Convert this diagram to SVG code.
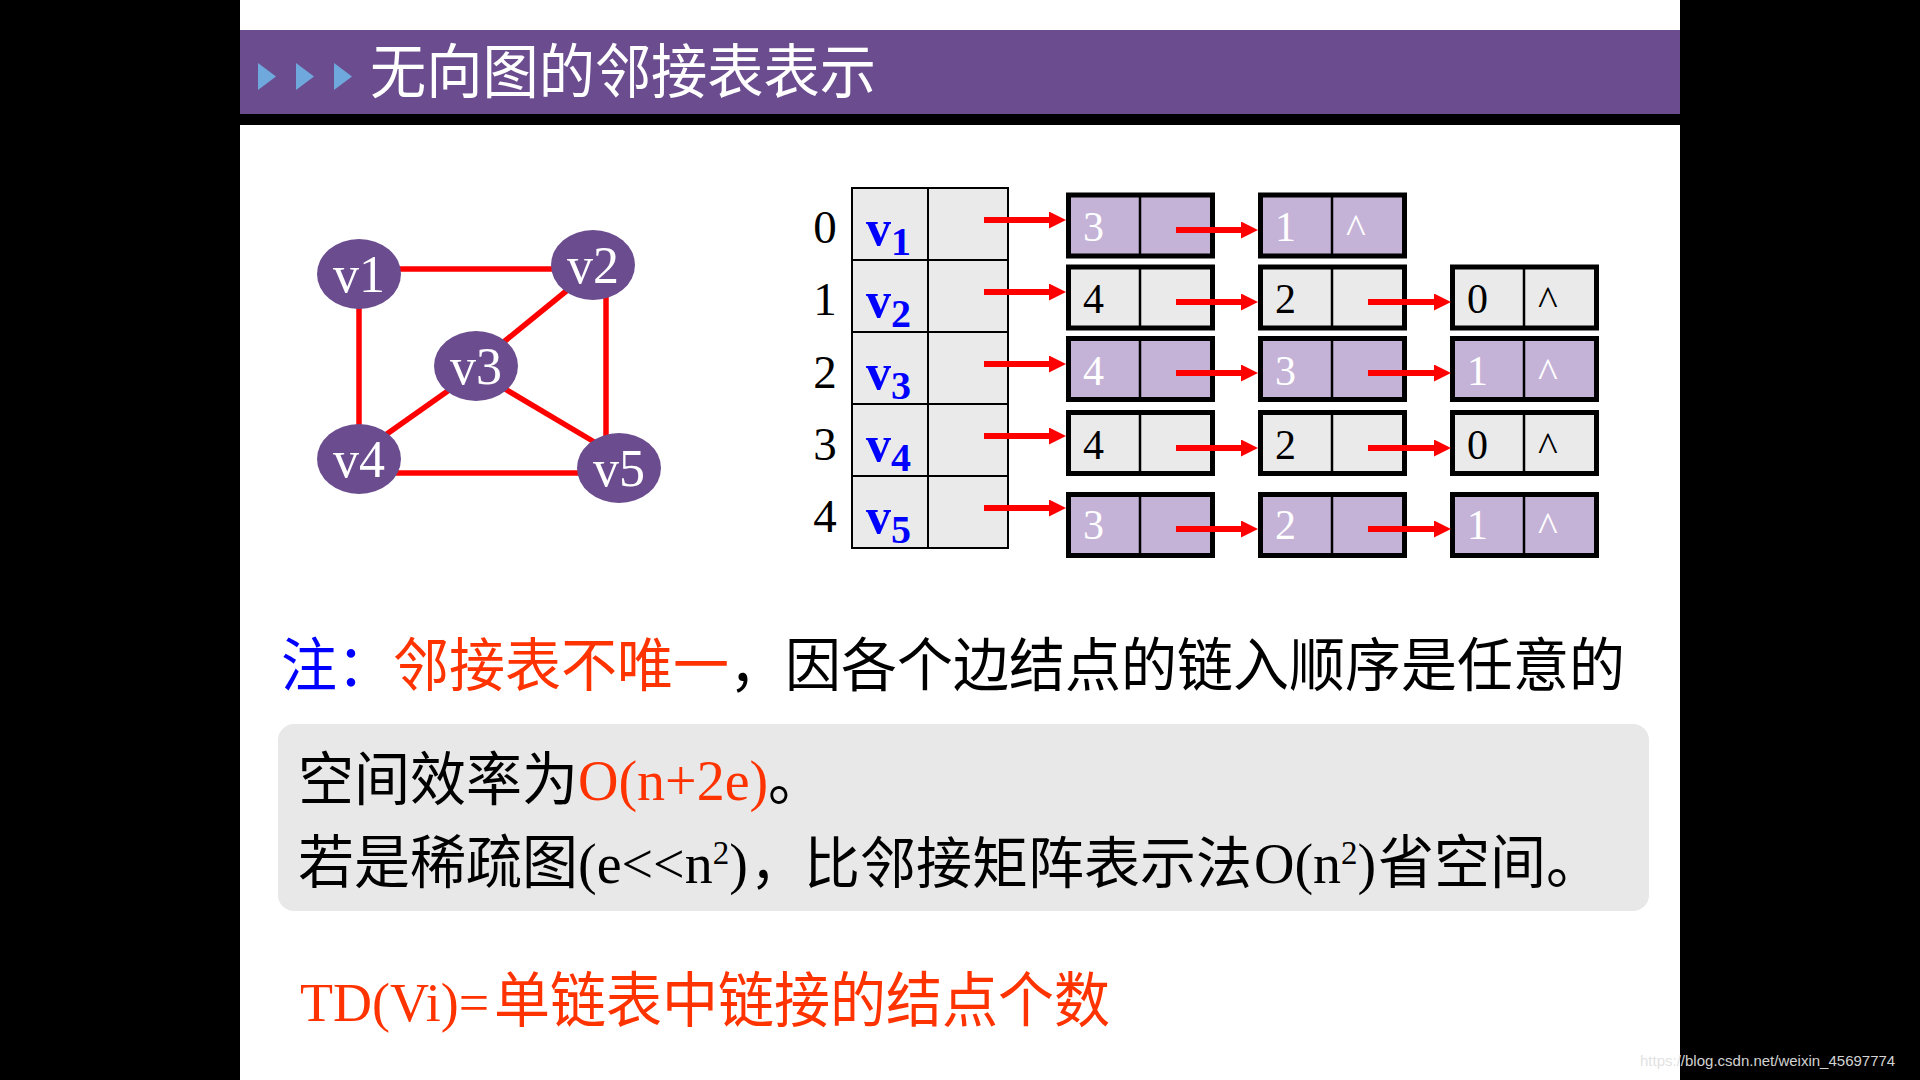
<svg xmlns="http://www.w3.org/2000/svg" width="1920" height="1080" viewBox="0 0 1920 1080">
  <defs>
    <style>
      .cjk { font-family: "Noto Sans CJK SC", "Noto Sans", sans-serif; }
      .serif { font-family: "Liberation Serif", "Times New Roman", serif; }
      .edge { stroke: #ff0000; stroke-width: 5.5; fill: none; }
      .ptr { stroke: #ff0000; stroke-width: 6; fill: none; marker-end: url(#head); }
      .vnode ellipse { fill: #6b4c8e; }
      .vnode text { font-family: "Liberation Serif", "Times New Roman", serif; font-size: 52px; fill: #ffffff; text-anchor: middle; }
      .cell { fill: #eaeaea; stroke: #000; stroke-width: 2; }
      .idx { font-family: "Liberation Serif", serif; font-size: 47px; fill: #000; text-anchor: middle; }
      .vlab { font-family: "Liberation Serif", serif; font-weight: bold; font-size: 50px; fill: #0000ff; }
      .box { stroke: #000; stroke-width: 5; }
      .box.lilac { fill: #c5b3d7; }
      .box.grey { fill: #eaeaea; }
      .div { stroke: #000; stroke-width: 2.5; }
      .val { font-family: "Liberation Serif", serif; font-size: 42px; }
      .lilac-t { fill: #ffffff; }
      .grey-t { fill: #000000; }
    </style>
    <marker id="head" markerUnits="userSpaceOnUse" markerWidth="18" markerHeight="18" refX="1" refY="8.5" orient="auto">
      <path d="M0,0 L17,8.5 L0,17 Z" fill="#ff0000"/>
    </marker>
  </defs>

  <!-- page -->
  <rect x="0" y="0" width="1920" height="1080" fill="#000"/>
  <rect x="240" y="0" width="1440" height="1080" fill="#fff"/>

  <!-- title bar -->
  <g id="title">
    <rect x="240" y="30" width="1440" height="84" fill="#6b4d8f"/>
    <rect x="240" y="114" width="1440" height="11" fill="#000"/>
    <polygon points="258,63 258,90 276,76.5" fill="#6fa8dc"/>
    <polygon points="296,63 296,90 314,76.5" fill="#6fa8dc"/>
    <polygon points="334,63 334,90 352,76.5" fill="#6fa8dc"/>
    <text x="370" y="93" class="cjk" font-size="59" fill="#fff" textLength="506" lengthAdjust="spacingAndGlyphs">无向图的邻接表表示</text>
  </g>

  <!-- undirected graph: edges -->
  <g id="graph-edges">
    <line class="edge" x1="395" y1="269" x2="560" y2="269"/>
    <line class="edge" x1="359" y1="300" x2="359" y2="430"/>
    <line class="edge" x1="606" y1="290" x2="606" y2="440"/>
    <line class="edge" x1="395" y1="473" x2="585" y2="473"/>
    <line class="edge" x1="570" y1="288" x2="500" y2="345"/>
    <line class="edge" x1="452" y1="388" x2="384" y2="436"/>
    <line class="edge" x1="505" y1="389" x2="596" y2="443"/>
  </g>

  <!-- undirected graph: vertices -->
  <g id="v1" class="vnode"><ellipse cx="359" cy="274" rx="42" ry="35"/><text x="359" y="292">v1</text></g>
  <g id="v2" class="vnode"><ellipse cx="593" cy="265" rx="42" ry="35"/><text x="593" y="283">v2</text></g>
  <g id="v3" class="vnode"><ellipse cx="476" cy="366" rx="42" ry="35"/><text x="476" y="384">v3</text></g>
  <g id="v4" class="vnode"><ellipse cx="359" cy="459" rx="42" ry="35"/><text x="359" y="477">v4</text></g>
  <g id="v5" class="vnode"><ellipse cx="619" cy="468" rx="42" ry="35"/><text x="619" y="486">v5</text></g>

  <!-- vertex table -->
  <g id="vertex-table">
    <rect class="cell" x="852" y="188" width="76" height="72"/>
    <rect class="cell" x="928" y="188" width="80" height="72"/>
    <rect class="cell" x="852" y="260" width="76" height="72"/>
    <rect class="cell" x="928" y="260" width="80" height="72"/>
    <rect class="cell" x="852" y="332" width="76" height="72"/>
    <rect class="cell" x="928" y="332" width="80" height="72"/>
    <rect class="cell" x="852" y="404" width="76" height="72"/>
    <rect class="cell" x="928" y="404" width="80" height="72"/>
    <rect class="cell" x="852" y="476" width="76" height="72"/>
    <rect class="cell" x="928" y="476" width="80" height="72"/>
    <text class="idx" x="825" y="243">0</text>
    <text class="idx" x="825" y="315">1</text>
    <text class="idx" x="825" y="388">2</text>
    <text class="idx" x="825" y="460">3</text>
    <text class="idx" x="825" y="532">4</text>
    <text class="vlab" x="866" y="245">v<tspan font-size="40" dy="10">1</tspan></text>
    <text class="vlab" x="866" y="317">v<tspan font-size="40" dy="10">2</tspan></text>
    <text class="vlab" x="866" y="389">v<tspan font-size="40" dy="10">3</tspan></text>
    <text class="vlab" x="866" y="461">v<tspan font-size="40" dy="10">4</tspan></text>
    <text class="vlab" x="866" y="533">v<tspan font-size="40" dy="10">5</tspan></text>
  </g>

  <!-- edge lists: row 0 -->
  <g id="e0a"><rect class="box lilac" x="1068.5" y="195" width="144" height="61"/><line class="div" x1="1140" y1="195" x2="1140" y2="256"/><text class="val lilac-t" x="1083" y="241">3</text></g>
  <g id="e0b"><rect class="box lilac" x="1260.5" y="195" width="144" height="61"/><line class="div" x1="1332" y1="195" x2="1332" y2="256"/><text class="val lilac-t" x="1275" y="241">1</text><text class="val lilac-t" x="1346" y="243">^</text></g>

  <!-- row 1 -->
  <g id="e1a"><rect class="box grey" x="1068.5" y="267" width="144" height="61"/><line class="div" x1="1140" y1="267" x2="1140" y2="328"/><text class="val grey-t" x="1083" y="313">4</text></g>
  <g id="e1b"><rect class="box grey" x="1260.5" y="267" width="144" height="61"/><line class="div" x1="1332" y1="267" x2="1332" y2="328"/><text class="val grey-t" x="1275" y="313">2</text></g>
  <g id="e1c"><rect class="box grey" x="1452.5" y="267" width="144" height="61"/><line class="div" x1="1524" y1="267" x2="1524" y2="328"/><text class="val grey-t" x="1467" y="313">0</text><text class="val grey-t" x="1538" y="315">^</text></g>

  <!-- row 2 -->
  <g id="e2a"><rect class="box lilac" x="1068.5" y="338.5" width="144" height="61"/><line class="div" x1="1140" y1="338.5" x2="1140" y2="399.5"/><text class="val lilac-t" x="1083" y="385">4</text></g>
  <g id="e2b"><rect class="box lilac" x="1260.5" y="338.5" width="144" height="61"/><line class="div" x1="1332" y1="338.5" x2="1332" y2="399.5"/><text class="val lilac-t" x="1275" y="385">3</text></g>
  <g id="e2c"><rect class="box lilac" x="1452.5" y="338.5" width="144" height="61"/><line class="div" x1="1524" y1="338.5" x2="1524" y2="399.5"/><text class="val lilac-t" x="1467" y="385">1</text><text class="val lilac-t" x="1538" y="387">^</text></g>

  <!-- row 3 -->
  <g id="e3a"><rect class="box grey" x="1068.5" y="412.5" width="144" height="61"/><line class="div" x1="1140" y1="412.5" x2="1140" y2="473.5"/><text class="val grey-t" x="1083" y="459">4</text></g>
  <g id="e3b"><rect class="box grey" x="1260.5" y="412.5" width="144" height="61"/><line class="div" x1="1332" y1="412.5" x2="1332" y2="473.5"/><text class="val grey-t" x="1275" y="459">2</text></g>
  <g id="e3c"><rect class="box grey" x="1452.5" y="412.5" width="144" height="61"/><line class="div" x1="1524" y1="412.5" x2="1524" y2="473.5"/><text class="val grey-t" x="1467" y="459">0</text><text class="val grey-t" x="1538" y="461">^</text></g>

  <!-- row 4 -->
  <g id="e4a"><rect class="box lilac" x="1068.5" y="494.5" width="144" height="61"/><line class="div" x1="1140" y1="494.5" x2="1140" y2="555.5"/><text class="val lilac-t" x="1083" y="539">3</text></g>
  <g id="e4b"><rect class="box lilac" x="1260.5" y="494.5" width="144" height="61"/><line class="div" x1="1332" y1="494.5" x2="1332" y2="555.5"/><text class="val lilac-t" x="1275" y="539">2</text></g>
  <g id="e4c"><rect class="box lilac" x="1452.5" y="494.5" width="144" height="61"/><line class="div" x1="1524" y1="494.5" x2="1524" y2="555.5"/><text class="val lilac-t" x="1467" y="539">1</text><text class="val lilac-t" x="1538" y="541">^</text></g>

  <!-- pointers -->
  <g id="connectors">
    <path class="ptr" d="M984,220 H1050"/>
    <path class="ptr" d="M984,292 H1050"/>
    <path class="ptr" d="M984,364 H1050"/>
    <path class="ptr" d="M984,436 H1050"/>
    <path class="ptr" d="M984,508 H1050"/>
    <path class="ptr" d="M1176,230 H1242"/>
    <path class="ptr" d="M1176,302 H1242"/>
    <path class="ptr" d="M1176,373 H1242"/>
    <path class="ptr" d="M1176,448 H1242"/>
    <path class="ptr" d="M1176,529 H1242"/>
    <path class="ptr" d="M1368,302 H1435"/>
    <path class="ptr" d="M1368,373 H1435"/>
    <path class="ptr" d="M1368,448 H1435"/>
    <path class="ptr" d="M1368,529 H1435"/>
  </g>

  <!-- note -->
  <g id="note" class="cjk" font-size="58">
    <text x="281" y="686" fill="#0000ff" textLength="112" lengthAdjust="spacingAndGlyphs">注：</text>
    <text x="393" y="686" fill="#ff3300" textLength="336" lengthAdjust="spacingAndGlyphs">邻接表不唯一</text>
    <text x="729" y="686" fill="#000" textLength="896" lengthAdjust="spacingAndGlyphs">，因各个边结点的链入顺序是任意的</text>
  </g>

  <!-- space efficiency panel -->
  <g id="space-panel">
    <rect x="278" y="724" width="1371" height="187" rx="16" fill="#e8e8e8"/>
    <text class="cjk" x="298" y="800" font-size="58" textLength="280" lengthAdjust="spacingAndGlyphs">空间效率为</text>
    <text class="serif" x="578" y="800" font-size="56" fill="#ff3300">O(n+2e)</text>
    <text class="cjk" x="768" y="800" font-size="58" textLength="56" lengthAdjust="spacingAndGlyphs">。</text>

    <text class="cjk" x="298" y="883" font-size="58" textLength="280" lengthAdjust="spacingAndGlyphs">若是稀疏图</text>
    <text class="serif" x="578" y="883" font-size="56">(e&lt;&lt;n<tspan font-size="33" dy="-19">2</tspan><tspan dy="19">)</tspan></text>
    <text class="cjk" x="750" y="883" font-size="58" textLength="54" lengthAdjust="spacingAndGlyphs">，</text>
    <text class="cjk" x="804" y="883" font-size="56">比邻接矩阵表示法</text>
    <text class="serif" x="1254" y="883" font-size="56">O(n<tspan font-size="33" dy="-19">2</tspan><tspan dy="19">)</tspan></text>
    <text class="cjk" x="1378" y="883" font-size="58" textLength="224" lengthAdjust="spacingAndGlyphs">省空间。</text>
  </g>

  <!-- degree rule -->
  <g id="degree" fill="#ff3300">
    <text class="serif" x="300" y="1021" font-size="54">TD(Vi)=</text>
    <text class="cjk" x="494" y="1022" font-size="60" textLength="616" lengthAdjust="spacingAndGlyphs">单链表中链接的结点个数</text>
  </g>

  <text x="1640" y="1066" font-family="Liberation Sans, Arial, sans-serif" font-size="15" fill="#e0e0e0" fill-opacity="0.95">https://blog.csdn.net/weixin_45697774</text>
</svg>
